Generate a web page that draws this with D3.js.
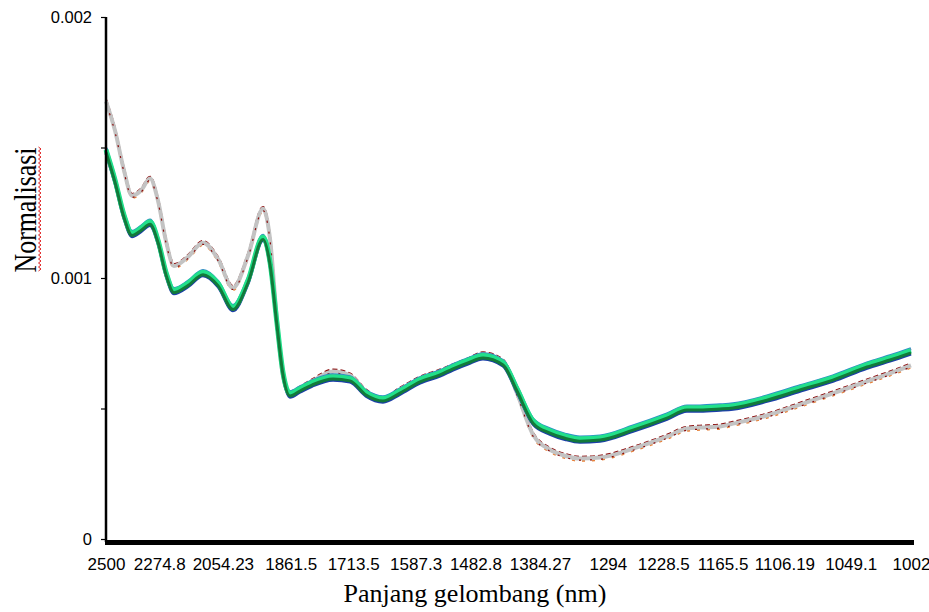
<!DOCTYPE html>
<html>
<head>
<meta charset="utf-8">
<script src="https://cdn.jsdelivr.net/npm/d3@7"></script>
<style>
  html, body { margin: 0; padding: 0; background: #fff; }
  svg { display: block; }
</style>
</head>
<body>
<svg id="chart" width="929" height="612"></svg>
<script>
// Wavelengths (nm) at which the spectra were read
const wavelengths = [2500, 2458.9, 2419.1, 2384.9, 2347.4, 2311.1, 2279.8, 2249.5, 2219.7, 2169.6,
  2118.4, 2069.5, 2022.9, 1978.3, 1935.6, 1916.3, 1897.4, 1881.5, 1863.3, 1837.9,
  1808.2, 1758.6, 1720.4, 1686.0, 1650.8, 1617.1, 1579.1, 1542.9, 1520.3, 1495.0,
  1470.5, 1439.0, 1417.8, 1394.3, 1370.2, 1349.6, 1329.6, 1303.8, 1263.4, 1224.4,
  1202.5, 1188.7, 1168.1, 1155.0, 1122.3, 1092.2, 1063.8, 1035.9, 1017.9, 1002];

// Upper group of spectra (grey / dark red), normalised values
const upperGroup = [0.001677, 0.001565, 0.001412, 0.001315, 0.001335, 0.001381, 0.001296, 0.001142, 0.001046, 0.001081,
  0.001135, 0.001073, 0.000962, 0.001085, 0.001265, 0.001150, 0.000835, 0.000623, 0.000558, 0.000577,
  0.000604, 0.000642, 0.000627, 0.000565, 0.000535, 0.000573, 0.000615, 0.000642, 0.000662, 0.000685,
  0.000708, 0.000681, 0.000558, 0.000400, 0.000342, 0.000319, 0.000308, 0.000312, 0.000346, 0.000392,
  0.000423, 0.000427, 0.000431, 0.000442, 0.000473, 0.000515, 0.000558, 0.000604, 0.000635, 0.000665];

// Lower group of spectra (greens / blues), normalised values
const lowerGroup = [0.001488, 0.001373, 0.001238, 0.001169, 0.001188, 0.001212, 0.001142, 0.001019, 0.000950, 0.000977,
  0.001019, 0.000977, 0.000885, 0.000988, 0.001154, 0.001058, 0.000823, 0.000635, 0.000554, 0.000573,
  0.000596, 0.000619, 0.000612, 0.000558, 0.000535, 0.000565, 0.000608, 0.000635, 0.000658, 0.000681,
  0.000700, 0.000673, 0.000573, 0.000450, 0.000412, 0.000392, 0.000381, 0.000385, 0.000423, 0.000469,
  0.000500, 0.000500, 0.000504, 0.000508, 0.000538, 0.000577, 0.000615, 0.000665, 0.000692, 0.000719];

// X tick labels (nm)
const xTickLabels = ["2500", "2274.8", "2054.23", "1861.5", "1713.5", "1587.3", "1482.8", "1384.27",
  "1294", "1228.5", "1165.5", "1106.19", "1049.1", "1002"];

// Y ticks
const yTicks = [0, 0.0005, 0.001, 0.0015, 0.002];
const yTickLabels = {"0": "0", "0.001": "0.001", "0.002": "0.002"};

const xTitle = "Panjang gelombang (nm)";
const yTitle = "Normalisasi";

// ---------------------------------------------------------------
const svg = d3.select("#chart");

// axis is linear in wavenumber (cm^-1), labelled in nm
const toWn = nm => 1e7 / nm;
const x = d3.scaleLinear().domain([toWn(2500), toWn(1002)]).range([106, 911]);
const y = d3.scaleLinear().domain([0, 0.002]).range([539, 17]);

const upperData = wavelengths.map((w, i) => ({w, v: upperGroup[i]}));
const lowerData = wavelengths.map((w, i) => ({w, v: lowerGroup[i]}));

const line = d3.line()
  .x(d => x(toWn(d.w)))
  .y(d => y(d.v))
  .curve(d3.curveMonotoneX);

const plot = svg.append("g");

// style layers for the overlapping spectra of each group
const upperLayers = [
  {color: "#e8823a", width: 2, dy: 2.2, dash: "3,7"},
  {color: "#8b0a0a", width: 2.2, dy: -1.8, dash: "5,3"},
  {color: "#c3c3c3", width: 4, dy: 0, dash: null},
  {color: "#8b0a0a", width: 1.2, dy: 1.6, dash: "2,9"}
];
const lowerLayers = [
  {color: "#2a8fc8", width: 3, dy: -2.6, dash: null},
  {color: "#8a5ad0", width: 2, dy: -2.2, dash: "3,6"},
  {color: "#1c3fa8", width: 3, dy: 2.8, dash: null},
  {color: "#e8823a", width: 2, dy: 1.5, dash: "3,8"},
  {color: "#22e08a", width: 5, dy: -0.8, dash: null},
  {color: "#127a3a", width: 3, dy: 1.6, dash: null}
];

function drawGroup(data, layers) {
  layers.forEach(l => {
    plot.append("path")
      .datum(data)
      .attr("d", line)
      .attr("transform", `translate(0,${l.dy})`)
      .attr("fill", "none")
      .attr("stroke", l.color)
      .attr("stroke-width", l.width)
      .attr("stroke-linejoin", "round")
      .attr("stroke-dasharray", l.dash);
  });
}
drawGroup(upperData, upperLayers);
drawGroup(lowerData, lowerLayers);

// Y axis
const yAxis = d3.axisLeft(y)
  .tickValues(yTicks)
  .tickSize(5)
  .tickPadding(9)
  .tickFormat(d => yTickLabels[String(d)] || "");
const gy = svg.append("g").attr("transform", "translate(106,0)").call(yAxis);
gy.select(".domain").remove();
gy.append("line").attr("x1", 0).attr("x2", 0).attr("y1", 17).attr("y2", 542)
  .attr("stroke", "#000").attr("stroke-width", 2.5);
gy.selectAll(".tick line").attr("stroke", "#000").attr("stroke-width", 1.2);
gy.selectAll(".tick text")
  .attr("font-family", "'Liberation Sans', Arial, sans-serif")
  .attr("font-size", 16.5).attr("fill", "#000");

// X axis
const xAxis = d3.axisBottom(x)
  .tickValues(xTickLabels.map(s => toWn(+s)))
  .tickSize(0)
  .tickPadding(19)
  .tickFormat((d, i) => xTickLabels[i]);
const gx = svg.append("g").attr("transform", "translate(0,539)").call(xAxis);
gx.select(".domain").remove();
gx.append("line").attr("x1", 105).attr("x2", 914).attr("y1", 3.5).attr("y2", 3.5)
  .attr("stroke", "#000").attr("stroke-width", 5);
gx.selectAll(".tick text")
  .attr("font-family", "'Liberation Sans', Arial, sans-serif")
  .attr("font-size", 17).attr("fill", "#000");

// Titles
svg.append("text")
  .attr("x", 475).attr("y", 602)
  .attr("text-anchor", "middle")
  .attr("font-family", "'Liberation Serif', 'Times New Roman', serif")
  .attr("font-size", 26)
  .text(xTitle);

svg.append("text")
  .attr("transform", "translate(36,210) rotate(-90)")
  .attr("text-anchor", "middle")
  .attr("font-family", "'Liberation Serif', 'Times New Roman', serif")
  .attr("font-size", 31)
  .attr("textLength", 125)
  .attr("lengthAdjust", "spacingAndGlyphs")
  .text(yTitle);

// spell-check squiggle under the rotated y title
const sq = [];
for (let yy = 147, k = 0; yy <= 272; yy += 2, k++) sq.push([k % 2 ? 41 : 38.5, yy]);
svg.append("path")
  .attr("d", d3.line()(sq))
  .attr("fill", "none")
  .attr("stroke", "#e02020")
  .attr("stroke-width", 1);
</script>
</body>
</html>
